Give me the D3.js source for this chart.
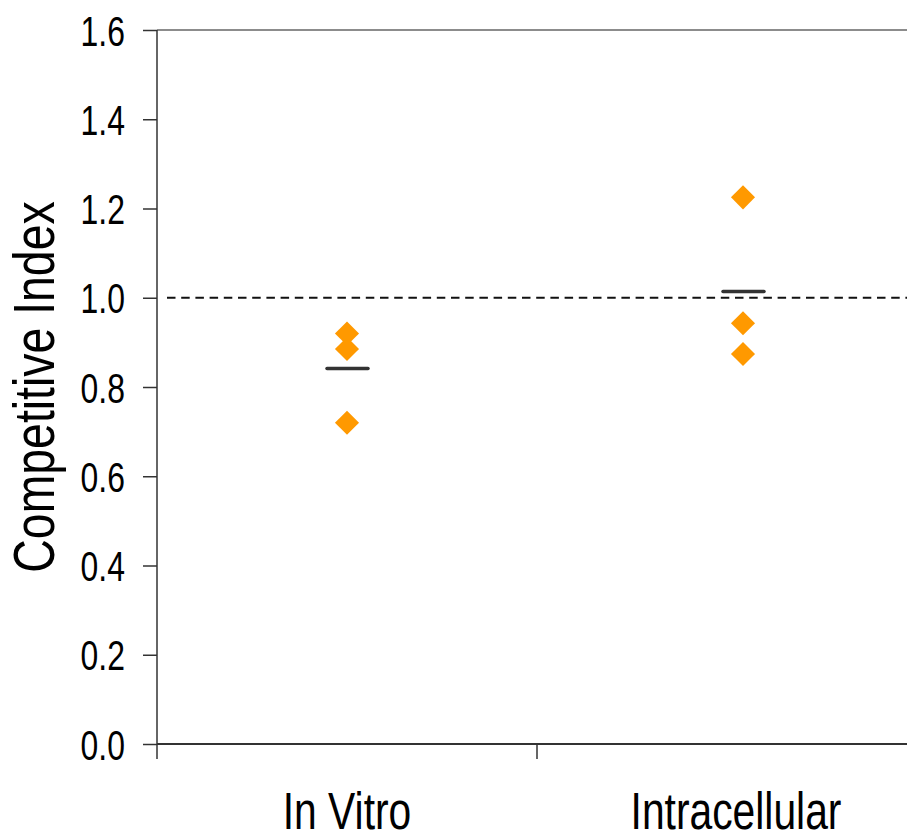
<!DOCTYPE html>
<html>
<head>
<meta charset="utf-8">
<script src="https://cdn.jsdelivr.net/npm/d3@7"></script>
<style>
  body { margin: 0; background: #fff; }
  svg text { font-family: "Liberation Sans", Arial, sans-serif; fill: #000; }
</style>
</head>
<body>
<svg id="chart" width="907" height="836"></svg>
<script>
// data
var categories = ["In Vitro", "Intracellular"];
var inVitro = [0.92, 0.885, 0.72];
var intracellular = [1.225, 0.943, 0.874];
var yTicks = [0, 0.2, 0.4, 0.6, 0.8, 1.0, 1.2, 1.4, 1.6];
var refLine = 1.0;

var series = [
    {cat: "In Vitro", values: inVitro},
    {cat: "Intracellular", values: intracellular}
];

var margin = {top: 30, right: 0, bottom: 92, left: 157};
var width = 907 - margin.left - margin.right,
    height = 836 - margin.top - margin.bottom;
var narrow = 0.8; // no narrow font installed, squeeze the text instead

var chart = d3.select('#chart');
var g = chart.append('g').attr('transform', 'translate(' + margin.left + ',' + margin.top + ')');

var y = d3.scaleLinear().domain([0, 1.6]).range([height, 0]);
// category bands for the tick marks, points sit a bit right in the second band
var xBand = d3.scaleBand().domain(categories).range([0, 760]);
var x = d3.scalePoint().domain(categories).range([190, 586]);

// top border
g.append('line')
    .attr('x1', 0).attr('x2', width)
    .attr('y1', 0).attr('y2', 0)
    .attr('stroke', '#8c8c8c')
    .attr('stroke-width', 2);

// y axis
var yAxis = d3.axisLeft(y)
    .tickValues(yTicks)
    .tickFormat(d3.format('.1f'))
    .tickSize(14)
    .tickPadding(32);

var ya = g.append('g').call(yAxis);
ya.select('.domain').remove();
ya.selectAll('.tick line').attr('stroke', '#333').attr('stroke-width', 1.5);
ya.selectAll('.tick text')
    .attr('x', null)
    .attr('dy', null)
    .attr('transform', 'translate(-32,15) scale(0.76,1)')
    .style('font-size', '42px')
    .attr('fill', '#000');
g.append('line')
    .attr('x1', 0).attr('x2', 0)
    .attr('y1', 0).attr('y2', height)
    .attr('stroke', '#333')
    .attr('stroke-width', 1.5);

// x axis line and category boundary ticks
g.append('line')
    .attr('x1', 0).attr('x2', width)
    .attr('y1', height).attr('y2', height)
    .attr('stroke', '#333')
    .attr('stroke-width', 2);

g.append('g').selectAll('line')
    .data(categories)
    .enter()
    .append('line')
        .attr('x1', d => xBand(d))
        .attr('x2', d => xBand(d))
        .attr('y1', height)
        .attr('y2', height + 15)
        .attr('stroke', '#333')
        .attr('stroke-width', 1.5);

g.append('g').selectAll('text')
    .data(categories)
    .enter()
    .append('text')
        .attr('transform', d => 'translate(' + (x(d) - (d == 'Intracellular' ? 7 : 0)) + ',' + (height + 85) + ') scale(' + narrow + ',1)')
        .attr('text-anchor', 'middle')
        .style('font-size', '51px')
        .text(d => d);

// y title
chart.append('text')
    .attr('transform', 'translate(54,' + (margin.top + height / 2) + ') rotate(-90) scale(' + narrow + ',1)')
    .attr('text-anchor', 'middle')
    .style('font-size', '58px')
    .text('Competitive Index');

// dashed reference line
g.append('line')
    .attr('x1', 10).attr('x2', width)
    .attr('y1', y(refLine)).attr('y2', y(refLine))
    .attr('stroke', '#111')
    .attr('stroke-width', 2)
    .attr('stroke-dasharray', '8.5,5.7');

// mean bars
g.append('g').selectAll('line')
    .data(series)
    .enter()
    .append('line')
        .attr('x1', d => x(d.cat) - 20)
        .attr('x2', d => x(d.cat) + 21)
        .attr('y1', d => y(d3.mean(d.values)))
        .attr('y2', d => y(d3.mean(d.values)))
        .attr('stroke', '#333')
        .attr('stroke-width', 3.5)
        .attr('stroke-linecap', 'round');

// diamonds
var pts = [];
series.forEach(function(s) {
    s.values.forEach(function(v) { pts.push({cat: s.cat, v: v}); });
});
var diamond = d3.symbol().type(d3.symbolSquare).size(290);
g.append('g').selectAll('path')
    .data(pts)
    .enter()
    .append('path')
        .attr('d', diamond)
        .attr('transform', d => 'translate(' + x(d.cat) + ',' + y(d.v) + ') rotate(45)')
        .attr('fill', '#ff9900');
</script>
</body>
</html>
